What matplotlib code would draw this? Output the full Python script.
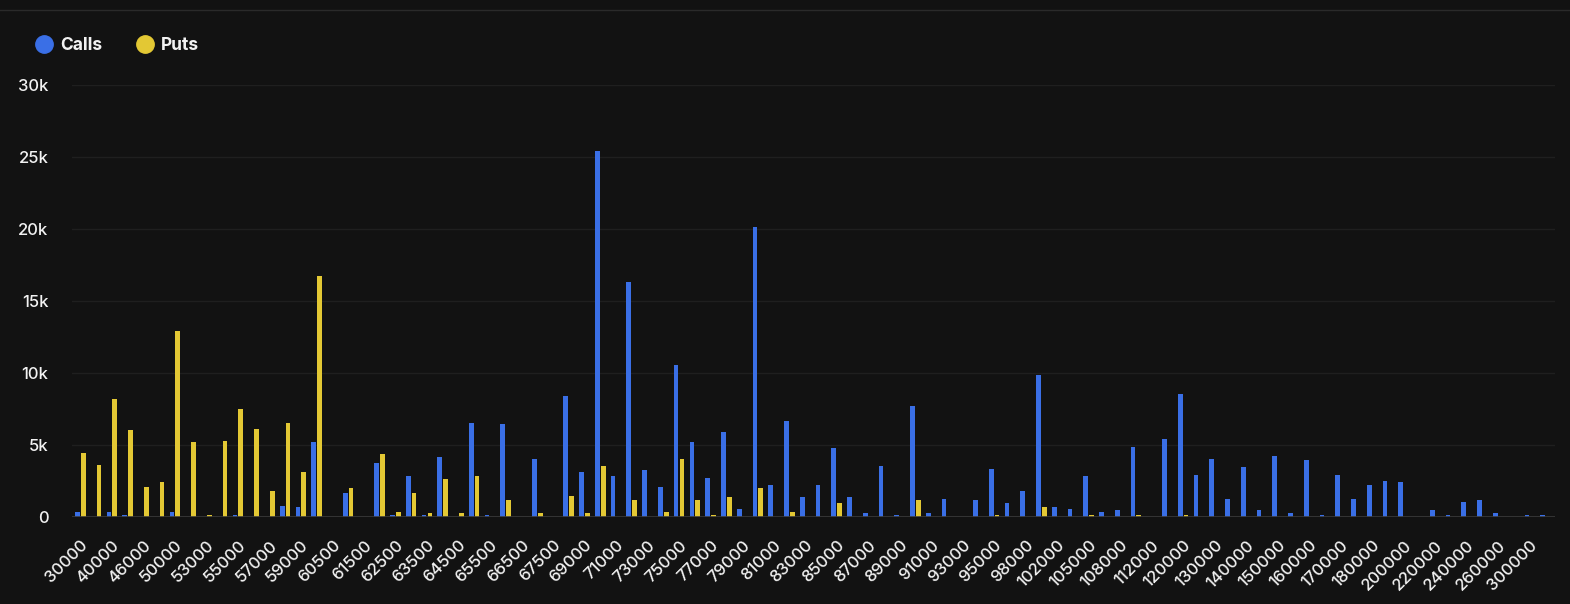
import matplotlib
matplotlib.use("Agg")
import matplotlib.pyplot as plt
import numpy as np
from matplotlib.lines import Line2D
from matplotlib.ticker import FuncFormatter

strikes = [30000, 35000, 40000, 45000, 46000, 48000, 50000, 52000, 53000, 54000,
           55000, 56000, 57000, 58000, 59000, 60000, 60500, 61000, 61500, 62000,
           62500, 63000, 63500, 64000, 64500, 65000, 65500, 66000, 66500, 67000,
           67500, 68000, 69000, 70000, 71000, 72000, 73000, 74000, 75000, 76000,
           77000, 78000, 79000, 80000, 81000, 82000, 83000, 84000, 85000, 86000,
           87000, 88000, 89000, 90000, 91000, 92000, 93000, 94000, 95000, 96000,
           98000, 100000, 102000, 104000, 105000, 106000, 108000, 110000, 112000, 115000,
           120000, 125000, 130000, 135000, 140000, 145000, 150000, 155000, 160000, 165000,
           170000, 175000, 180000, 190000, 200000, 210000, 220000, 230000, 240000, 250000,
           260000, 280000, 300000, 350000]

calls = [300, 0, 300, 100, 0, 0, 300, 0, 0, 0,
         100, 0, 0, 730, 640, 5180, 0, 1670, 0, 3740,
         100, 2800, 100, 4150, 0, 6510, 100, 6420, 0, 4010,
         0, 8370, 3120, 25400, 2800, 16300, 3210, 2090, 10550, 5180,
         2710, 5890, 530, 20100, 2180, 6630, 1350, 2180, 4770, 1350,
         230, 3530, 100, 7660, 230, 1260, 0, 1150, 3330, 940,
         1790, 9820, 640, 530, 2800, 320, 440, 4860, 0, 5390,
         8490, 2910, 4040, 1260, 3420, 440, 4240, 230, 3940, 100,
         2910, 1260, 2180, 2500, 2390, 0, 440, 100, 1050, 1150,
         230, 0, 100, 100]

puts = [4450, 3620, 8170, 6000, 2090, 2390, 12900, 5180, 100, 5280,
        7450, 6100, 1790, 6510, 3120, 16740, 0, 1970, 0, 4360,
        320, 1670, 230, 2590, 230, 2800, 0, 1150, 0, 230,
        0, 1470, 230, 3510, 0, 1150, 0, 320, 4010, 1150,
        100, 1350, 0, 1970, 0, 320, 0, 0, 940, 0,
        0, 0, 0, 1150, 0, 0, 0, 0, 100, 0,
        0, 640, 0, 0, 100, 0, 0, 100, 0, 0,
        100, 0, 0, 0, 0, 0, 0, 0, 0, 0,
        0, 0, 0, 0, 0, 0, 0, 0, 0, 0,
        0, 0, 0, 0]

y_ticks = [0, 5000, 10000, 15000, 20000, 25000, 30000]

BG = "#121212"
BLUE = "#3a6fe6"
YELLOW = "#e3c834"
TXT = "#f2f2f2"

plt.rcParams['font.family'] = ['Inter', 'DejaVu Sans']

fig = plt.figure(figsize=(15.70, 6.04), dpi=100, facecolor=BG)
ax = fig.add_axes([72/1570, 87.3/604, (1555-72)/1570, 0.7153], facecolor=BG)

x = np.arange(len(strikes))
w = 0.3
off = 0.185
ax.bar(x - off, calls, width=w, color=BLUE, zorder=3)
ax.bar(x + off, puts, width=w, color=YELLOW, zorder=3)

ax.set_xlim(-0.53, len(strikes) - 1 + 0.6)
ax.set_ylim(0, 30000)
ax.set_yticks(y_ticks)
ax.yaxis.set_major_formatter(FuncFormatter(lambda v, p: "0" if v == 0 else f"{int(v/1000)}k"))
ax.grid(axis='y', color="#1f1f1f", linewidth=1, zorder=0)
ax.axhline(0, color="#3a3a3a", linewidth=1.2, zorder=4)

ax.set_xticks(x[::2])
ax.set_xticklabels([str(s) for s in strikes[::2]], rotation=45, ha='right',
                   rotation_mode='anchor', color=TXT, fontsize=12, fontweight='medium')
ax.tick_params(axis='x', length=0, pad=15)
ax.tick_params(axis='y', length=0, pad=17, labelcolor=TXT, labelsize=12)
for lab in ax.get_yticklabels():
    lab.set_fontweight('medium')
for s in ax.spines.values():
    s.set_visible(False)

handles = [Line2D([], [], marker='o', linestyle='none', markersize=12.5,
                  markerfacecolor=BLUE, markeredgecolor=BLUE),
           Line2D([], [], marker='o', linestyle='none', markersize=12.5,
                  markerfacecolor=YELLOW, markeredgecolor=YELLOW)]
leg = fig.legend(handles, ["Calls", "Puts"], loc='center left',
                 bbox_to_anchor=(20/1570, 1 - 46/604), ncol=2, frameon=False,
                 handlelength=1.0, handletextpad=0.4, columnspacing=2.0,
                 prop={'weight': 'bold', 'size': 12.5})
for t in leg.get_texts():
    t.set_color(TXT)

fig.add_artist(Line2D([0, 1], [1 - 10/604, 1 - 10/604], transform=fig.transFigure,
                      color="#2a2a2a", linewidth=1))

fig.savefig("out.png", dpi=100, facecolor=BG)
